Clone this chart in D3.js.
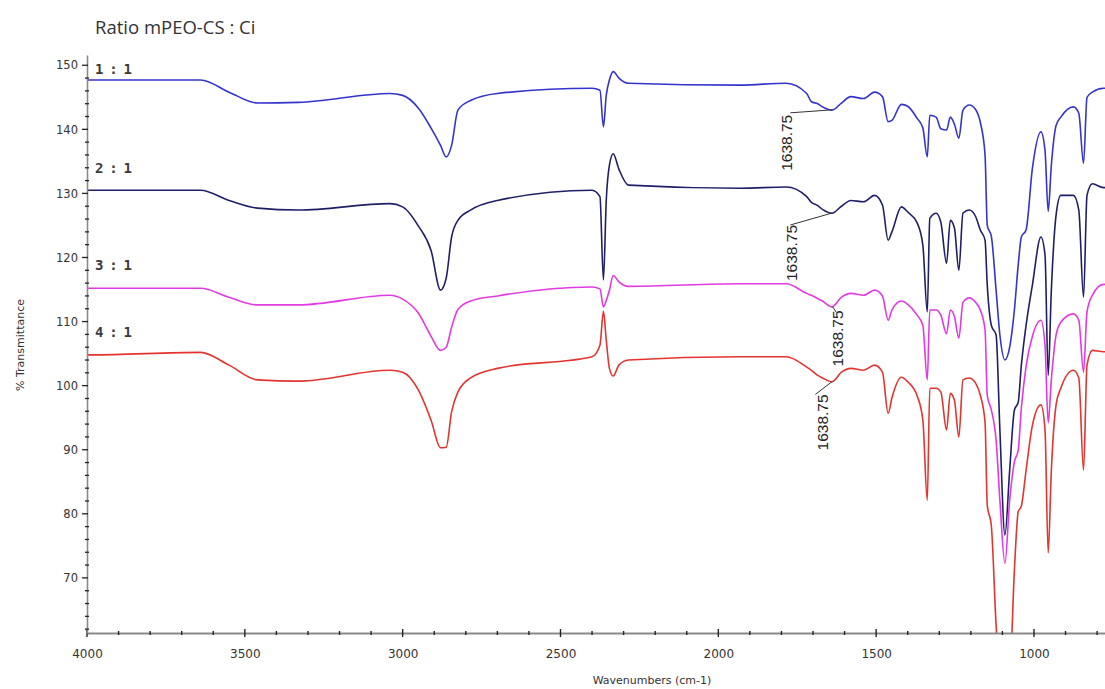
<!DOCTYPE html>
<html>
<head>
<meta charset="utf-8">
<script src="https://cdn.jsdelivr.net/npm/d3@7"></script>
<style>
  html, body { margin: 0; padding: 0; background: #fff; }
  svg { display: block; }
</style>
</head>
<body>
<svg id="chart" width="1105" height="689"></svg>
<script>
// FTIR spectra of mPEO-CS : Ci blends, % transmittance vs wavenumber (cm-1)
const wavenumbers = [4000,3990,3640,3550,3460,3330,3040,3000,2950,2910,2880,2862,2845,2825,2785,2700,
  2400,2375,2364,2355,2345,2333,2315,2285,1930,1785,1720,1705,1685,1670,1640,1610,1580,1540,1505,1480,
  1462,1450,1420,1400,1370,1352,1338,1330,1310,1295,1277,1265,1252,1238,1225,1205,1185,1170,1155,1148,
  1135,1120,1108,1092,1077,1062,1050,1040,1025,1005,978,965,955,945,930,915,875,858,843,832,815,780,775];

const ratio11 = [147.7,147.7,147.7,145.8,144.1,144.2,145.6,145.3,143.3,140.2,137.5,135.7,137.5,143.0,144.5,145.6,
  146.4,146.1,140.4,145.3,147.7,149.0,148.0,147.2,146.9,147.2,145.6,144.3,144.0,143.5,143.0,144.1,145.1,144.8,145.8,145.1,
  141.2,141.4,143.9,143.6,141.7,140.2,135.7,142.2,141.9,140.1,139.9,141.9,140.8,138.6,143.0,143.8,143.1,141.1,136.0,125.0,
  123.3,114.9,107.9,104.0,106.0,111.8,118.8,123.2,124.3,133.9,139.6,136.7,127.2,134.4,140.6,141.9,143.5,142.5,134.7,145.0,145.8,146.4,146.4];

const ratio21 = [130.5,130.5,130.5,128.9,127.7,127.4,128.4,127.9,124.9,121.1,114.9,116.8,123.2,125.8,127.4,128.9,
  130.5,129.5,116.5,128.9,134.4,136.2,133.8,131.3,130.8,131.0,129.5,128.6,128.1,127.5,126.9,128.0,128.9,128.7,129.7,128.2,
  122.7,124.0,127.9,127.1,125.4,121.9,111.5,126.1,126.9,125.5,119.1,125.8,124.6,118.0,126.9,127.4,126.4,124.3,122.7,115.7,
  109.4,107.9,93.1,76.7,86.8,96.2,97.4,103.2,109.4,115.7,123.2,120.4,101.6,114.9,126.6,129.7,129.7,127.4,113.8,129.7,131.5,130.9,130.9];

const ratio31 = [115.2,115.2,115.2,113.8,112.6,112.6,114.1,113.5,111.3,107.7,105.5,106.0,109.1,111.9,113.2,114.0,
  115.4,115.1,112.3,113.3,114.9,117.2,116.2,115.5,115.9,115.9,114.4,114.1,113.6,113.2,112.3,113.8,114.4,114.1,114.9,114.0,
  110.2,111.8,113.2,112.7,111.0,109.4,100.9,111.8,111.8,111.0,108.1,111.8,110.8,107.4,113.0,113.7,113.0,111.8,108.7,98.5,
  96.2,91.5,82.1,72.3,82.1,88.1,89.9,96.5,103.0,107.7,110.2,106.3,94.2,100.9,107.9,109.9,111.2,110.2,102.1,111.5,114.1,115.8,115.8];

const ratio41 = [104.8,104.8,105.2,103.2,100.9,100.7,102.4,102.1,99.3,94.6,90.3,90.4,95.9,99.0,101.2,102.7,
  104.5,106.3,111.6,107.1,102.7,101.5,103.2,104.0,104.5,104.5,102.9,102.4,101.6,101.2,100.6,102.1,102.7,102.4,103.2,102.1,
  95.7,98.1,101.3,100.6,98.4,94.6,82.1,99.6,99.6,99.0,93.1,98.8,97.7,92.0,100.9,101.2,100.4,98.5,94.3,81.4,
  78.1,62.6,54.1,50.9,54.1,71.2,80.3,81.2,86.8,93.8,97.0,93.1,73.9,86.8,97.0,99.6,102.4,101.2,86.8,103.2,105.5,105.3,105.3];

const seriesNames = ["1 : 1", "2 : 1", "3 : 1", "4 : 1"];
const seriesValues = [ratio11, ratio21, ratio31, ratio41];
const seriesColors = ["#3434cc", "#1f1f68", "#e23ae2", "#e2352f"];

const xTickValues = [4000, 3500, 3000, 2500, 2000, 1500, 1000];
const yTickValues = [70, 80, 90, 100, 110, 120, 130, 140, 150];
const peakWavenumber = 1638.75;
const peakText = "1638.75";
const titleText = "Ratio mPEO-CS : Ci";
const xTitle = "Wavenumbers (cm-1)";
const yTitle = "% Transmittance";

const svg = d3.select("#chart");
const plot = { left: 87, right: 1105, top: 55, bottom: 633 };

const x = d3.scaleLinear().domain([4000, 775]).range([plot.left, plot.right]);
const y = d3.scaleLinear().domain([61.4, 151.6]).range([plot.bottom, plot.top]);

svg.append("defs").append("clipPath").attr("id", "plot-clip")
  .append("rect")
  .attr("x", plot.left).attr("y", plot.top)
  .attr("width", plot.right - plot.left).attr("height", plot.bottom - plot.top);

// Title
svg.append("text")
  .attr("x", 95).attr("y", 34)
  .attr("font-family", "Open Sans, sans-serif")
  .attr("font-size", 18.5)
  .attr("fill", "#333")
  .text(titleText);

// Spectra
const line = d3.line()
  .x((d, i) => x(wavenumbers[i]))
  .y(d => y(d))
  .curve(d3.curveMonotoneX);

const traces = svg.append("g").attr("clip-path", "url(#plot-clip)");
seriesValues.forEach((vals, k) => {
  traces.append("path")
    .datum(vals)
    .attr("fill", "none")
    .attr("stroke", seriesColors[k])
    .attr("stroke-width", 1.6)
    .attr("stroke-linejoin", "round")
    .attr("d", line);
});

// Series labels just above the start of each trace
const labelLift = [6, 17, 18, 18];
seriesNames.forEach((name, k) => {
  svg.append("text")
    .attr("x", 95)
    .attr("y", y(seriesValues[k][0]) - labelLift[k])
    .attr("font-family", "DejaVu Sans Mono, monospace")
    .attr("font-size", 14)
    .attr("font-weight", "bold")
    .attr("letter-spacing", -1.3)
    .attr("fill", "#3a3a3a")
    .text(name);
});

// Peak annotations at 1638.75 cm-1
function valueAt(vals, w) {
  for (let i = 0; i < wavenumbers.length - 1; i++) {
    const a = wavenumbers[i], b = wavenumbers[i + 1];
    if (w <= a && w >= b) {
      const t = (a - w) / (a - b);
      return vals[i] + t * (vals[i + 1] - vals[i]);
    }
  }
  return vals[vals.length - 1];
}
// text baseline offset, text top offset, leader start offset (px from the peak point)
const peakLayout = [
  { tx: -40, ty: 5,  lx: -42, ly: 3 },
  { tx: -35, ty: 12, lx: -42, ly: 12 },
  { tx: 11,  ty: 4,  lx: 4,   ly: 6 },
  { tx: -4,  ty: 13, lx: -17, ly: 13 }
];
const ann = svg.append("g");
seriesValues.forEach((vals, k) => {
  const px = x(peakWavenumber), py = y(valueAt(vals, peakWavenumber));
  const L = peakLayout[k];
  ann.append("line")
    .attr("x1", px + L.lx).attr("y1", py + L.ly)
    .attr("x2", px).attr("y2", py)
    .attr("stroke", "#333").attr("stroke-width", 1);
  ann.append("text")
    .attr("transform", `translate(${px + L.tx},${py + L.ty}) rotate(-90)`)
    .attr("text-anchor", "end")
    .attr("font-family", "Liberation Sans, Arial, sans-serif")
    .attr("font-size", 15.5)
    .attr("fill", "#222")
    .text(peakText);
});

// X axis
const xAxis = svg.append("g").attr("transform", `translate(0,${plot.bottom})`)
  .call(d3.axisBottom(x).tickValues(xTickValues).tickFormat(d3.format("d")).tickSize(0).tickPadding(16));
xAxis.select(".domain").attr("stroke", "#8a8a8a").attr("stroke-width", 2.2);
xAxis.selectAll(".tick text")
  .attr("font-family", "DejaVu Sans, sans-serif").attr("font-size", 12).attr("fill", "#333");
const xMinor = d3.range(4000, 775, -100);
svg.append("g").selectAll("line").data(xMinor).join("line")
  .attr("x1", d => x(d)).attr("x2", d => x(d))
  .attr("y1", d => plot.bottom - (d % 500 === 0 ? 4 : 2))
  .attr("y2", d => plot.bottom + (d % 500 === 0 ? 4 : 2))
  .attr("stroke", "#222").attr("stroke-width", 1.4);

// Y axis
const yAxis = svg.append("g").attr("transform", `translate(${plot.left},0)`)
  .call(d3.axisLeft(y).tickValues(yTickValues).tickFormat(d3.format("d")).tickSize(0).tickPadding(9));
yAxis.select(".domain").attr("stroke", "#8a8a8a").attr("stroke-width", 1.6);
yAxis.selectAll(".tick text")
  .attr("font-family", "DejaVu Sans, sans-serif").attr("font-size", 11.5).attr("fill", "#333");
const yMinor = d3.range(62, 151, 2);
svg.append("g").selectAll("line").data(yMinor).join("line")
  .attr("x1", d => plot.left - (d % 10 === 0 ? 5 : 2))
  .attr("x2", d => plot.left + (d % 10 === 0 ? 1 : 2))
  .attr("y1", d => y(d)).attr("y2", d => y(d))
  .attr("stroke", "#222").attr("stroke-width", 1.3);

// Axis titles
svg.append("text")
  .attr("x", 652).attr("y", 684)
  .attr("text-anchor", "middle")
  .attr("font-family", "DejaVu Sans, sans-serif").attr("font-size", 11).attr("fill", "#333")
  .text(xTitle);
svg.append("text")
  .attr("transform", "translate(24,345) rotate(-90)")
  .attr("text-anchor", "middle")
  .attr("font-family", "DejaVu Sans, sans-serif").attr("font-size", 11).attr("fill", "#333")
  .text(yTitle);
</script>
</body>
</html>
